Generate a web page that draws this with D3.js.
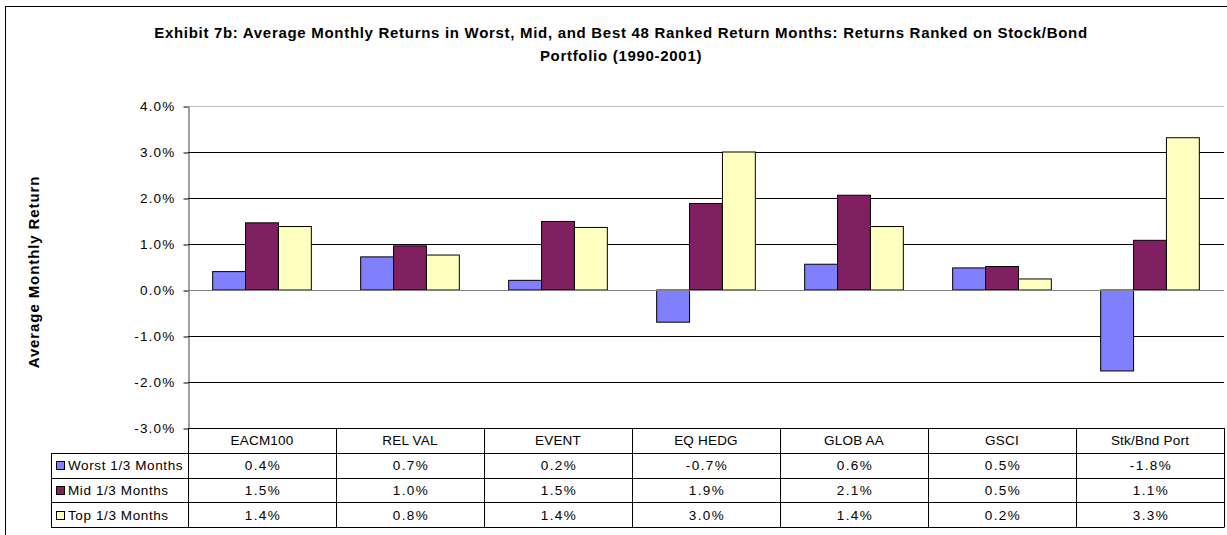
<!DOCTYPE html>
<html>
<head>
<meta charset="utf-8">
<script src="https://cdn.jsdelivr.net/npm/d3@7"></script>
<style>
  body { margin: 0; background: #fff; }
  svg { display: block; font-family: "Liberation Sans", Arial, sans-serif; }
</style>
</head>
<body>
<div id="chart"></div>
<script>
// Chart data (values in %)
const categories = ["EACM100", "REL VAL", "EVENT", "EQ HEDG", "GLOB AA", "GSCI", "Stk/Bnd Port"];
const seriesNames = ["Worst 1/3 Months", "Mid 1/3 Months", "Top 1/3 Months"];
const worstValues = [0.40, 0.72, 0.21, -0.70, 0.56, 0.48, -1.76];
const midValues = [1.46, 0.96, 1.49, 1.88, 2.06, 0.51, 1.08];
const topValues = [1.38, 0.76, 1.36, 3.00, 1.38, 0.24, 3.31];
const yTicks = [-3, -2, -1, 0, 1, 2, 3, 4];
const seriesColors = ["#8080ff", "#802060", "#ffffc0"];

const series = [worstValues, midValues, topValues];

const width = 1227;
const height = 535;

// Plot area bounds
const plotLeft = 188;
const plotRight = 1224;
const plotTop = 106;
const plotBottom = 428;
const rowHeight = 24.75;

const svg = d3
  .select("#chart")
  .append("svg")
  .attr("width", width)
  .attr("height", height);

// Outer chart border
svg.append("rect")
  .attr("x", 5.5)
  .attr("y", 6.5)
  .attr("width", width + 10)
  .attr("height", height + 10)
  .attr("fill", "#fff")
  .attr("stroke", "#000")
  .attr("stroke-width", 1);

// Title
const title = svg.append("text")
  .attr("text-anchor", "middle")
  .attr("font-size", "15px")
  .attr("font-weight", "bold")
  .attr("letter-spacing", "0.7px")
  .attr("fill", "#000");
title.append("tspan")
  .attr("x", 621)
  .attr("y", 38)
  .text("Exhibit 7b: Average Monthly Returns in Worst, Mid, and Best 48 Ranked Return Months: Returns Ranked on Stock/Bond");
title.append("tspan")
  .attr("x", 621)
  .attr("y", 61)
  .text("Portfolio (1990-2001)");

// Scales
const y = d3.scaleLinear().domain([-3, 4]).range([plotBottom, plotTop]);

const x0 = d3.scaleBand()
  .domain(categories)
  .range([plotLeft, plotRight])
  .paddingInner(0)
  .paddingOuter(0);

// Excel gap width of 50% -> 0.75 bar on each side of a group
const x1 = d3.scaleBand()
  .domain(d3.range(series.length))
  .range([0, x0.bandwidth()])
  .paddingInner(0)
  .paddingOuter(0.75);

const fmt = (v) => v.toFixed(1) + "%";

// Horizontal gridlines
svg.append("g")
  .selectAll("line")
  .data(yTicks.filter((t) => t !== -3 && t !== 0))
  .enter()
  .append("line")
  .attr("x1", plotLeft)
  .attr("x2", plotRight)
  .attr("y1", (d) => Math.round(y(d)) + 0.5)
  .attr("y2", (d) => Math.round(y(d)) + 0.5)
  .attr("stroke", (d) => (d === 4 ? "#c0c0c0" : "#000"))
  .attr("stroke-width", 1);

// Y axis with ticks on the left
const yAxis = svg.append("g")
  .attr("transform", "translate(" + (plotLeft + 0.5) + ",0.5)")
  .call(
    d3.axisLeft(y)
      .tickValues(yTicks)
      .tickSize(5)
      .tickSizeOuter(0)
      .tickFormat(fmt)
  );
yAxis.select(".domain").attr("stroke", "#404040");
yAxis.selectAll(".tick line").attr("stroke", "#000");
yAxis.selectAll(".tick text")
  .attr("x", -13)
  .attr("font-size", "13.5px")
  .attr("letter-spacing", "1.2px")
  .attr("font-family", "Liberation Sans, Arial, sans-serif")
  .attr("fill", "#000");

// Y axis title
svg.append("text")
  .attr("transform", "translate(39," + ((plotTop + plotBottom) / 2 + 5) + ") rotate(-90)")
  .attr("text-anchor", "middle")
  .attr("font-size", "15px")
  .attr("font-weight", "bold")
  .attr("letter-spacing", "0.9px")
  .text("Average Monthly Return");

// Bars
const groups = svg.append("g")
  .selectAll("g")
  .data(categories)
  .enter()
  .append("g")
  .attr("transform", (d) => "translate(" + x0(d) + ",0)");

groups.selectAll("rect")
  .data((d, i) => series.map((s, k) => ({ k: k, value: s[i] })))
  .enter()
  .append("rect")
  .attr("x", (d) => x1(d.k))
  .attr("y", (d) => y(Math.max(0, d.value)))
  .attr("width", x1.bandwidth())
  .attr("height", (d) => Math.abs(y(d.value) - y(0)))
  .attr("fill", (d) => seriesColors[d.k])
  .attr("stroke", "#000")
  .attr("stroke-width", 1);

// Zero line (category axis)
svg.append("line")
  .attr("x1", plotLeft)
  .attr("x2", plotRight)
  .attr("y1", Math.round(y(0)) + 0.5)
  .attr("y2", Math.round(y(0)) + 0.5)
  .attr("stroke", "#808080")
  .attr("stroke-width", 1);

// Data table below the plot
const table = svg.append("g").attr("stroke", "#000").attr("stroke-width", 1);
const tableLeft = 51;
const rowY = d3.range(series.length + 2).map((i) => plotBottom + i * rowHeight);

// Horizontal table lines
table.selectAll(".hline")
  .data(rowY)
  .enter()
  .append("line")
  .attr("x1", (d, i) => (i === 0 ? plotLeft : tableLeft))
  .attr("x2", plotRight)
  .attr("y1", (d) => Math.round(d) + 0.5)
  .attr("y2", (d) => Math.round(d) + 0.5);

// Vertical table lines
table.selectAll(".vline")
  .data(categories.map((c) => x0(c)).concat([plotRight]))
  .enter()
  .append("line")
  .attr("x1", (d) => Math.round(d) + 0.5)
  .attr("x2", (d) => Math.round(d) + 0.5)
  .attr("y1", plotBottom)
  .attr("y2", Math.round(rowY[rowY.length - 1]) + 0.5);

table.append("line")
  .attr("x1", tableLeft + 0.5)
  .attr("x2", tableLeft + 0.5)
  .attr("y1", Math.round(rowY[1]) + 0.5)
  .attr("y2", Math.round(rowY[rowY.length - 1]) + 0.5);

// Category header row
svg.append("g")
  .selectAll("text")
  .data(categories)
  .enter()
  .append("text")
  .attr("x", (d) => x0(d) + x0.bandwidth() / 2)
  .attr("y", rowY[0] + rowHeight / 2 + 5)
  .attr("text-anchor", "middle")
  .attr("font-size", "13.5px")
  .attr("letter-spacing", "0.2px")
  .text((d) => d);

// Series rows: legend key, name, values
seriesNames.forEach((name, k) => {
  const rowTop = rowY[k + 1];
  const mid = rowTop + rowHeight / 2;

  svg.append("rect")
    .attr("x", 56.5)
    .attr("y", Math.round(mid - 4) + 0.5)
    .attr("width", 8)
    .attr("height", 8)
    .attr("fill", seriesColors[k])
    .attr("stroke", "#000")
    .attr("stroke-width", 1);

  svg.append("text")
    .attr("x", 68)
    .attr("y", mid + 5)
    .attr("font-size", "13.5px")
    .attr("letter-spacing", "0.6px")
    .text(name);

  svg.append("g")
    .selectAll("text")
    .data(series[k])
    .enter()
    .append("text")
    .attr("x", (d, i) => x0(categories[i]) + x0.bandwidth() / 2 + 1)
    .attr("y", mid + 5)
    .attr("text-anchor", "middle")
    .attr("font-size", "13.5px")
    .attr("letter-spacing", "1.4px")
    .text((d) => fmt(d));
});
</script>
</body>
</html>
